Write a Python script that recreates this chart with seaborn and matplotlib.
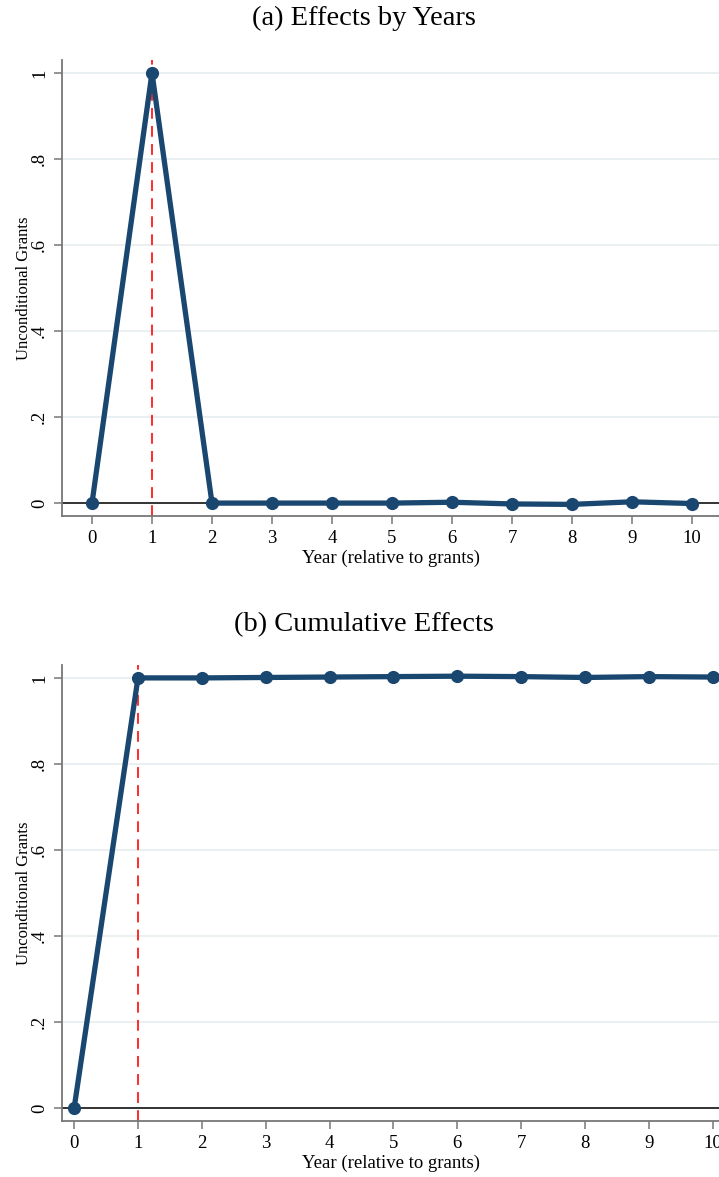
import matplotlib
matplotlib.use("Agg")
import matplotlib.pyplot as plt
import seaborn as sns
import pandas as pd

# Event-time estimates of unconditional grants
years = [0, 1, 2, 3, 4, 5, 6, 7, 8, 9, 10]
effects_by_year = [0.0, 1.0, 0.0, 0.0, 0.0, 0.0, 0.002, -0.002, -0.003, 0.003, -0.001]
cumulative_effects = [0.0, 1.0, 1.0, 1.001, 1.002, 1.003, 1.004, 1.003, 1.001, 1.003, 1.002]
y_ticks = [0, 0.2, 0.4, 0.6, 0.8, 1.0]
y_tick_labels = ["0", ".2", ".4", ".6", ".8", "1"]
panel_titles = ["(a) Effects by Years", "(b) Cumulative Effects"]
x_label = "Year (relative to grants)"
y_label = "Unconditional Grants"
event_year = 1

sns.set_theme(style="white")
plt.rcParams["font.family"] = ["Liberation Serif", "DejaVu Serif"]
plt.rcParams["text.color"] = "black"
plt.rcParams["axes.labelcolor"] = "black"
plt.rcParams["xtick.color"] = "black"
plt.rcParams["ytick.color"] = "black"

LINE = "#1a476f"
GRID = "#eaf0f2"
SPINE = "#777777"

fig = plt.figure(figsize=(7.19, 11.77), dpi=100)
left = 62 / 719
width = 1 - left
h = (516 - 60) / 1177
axes_specs = [
    (1 - 516 / 1177, (-0.5, 10.45), effects_by_year, 18 / 1177),
    (1 - 1121 / 1177, (-0.19, 10.1), cumulative_effects, 625 / 1177),
]

for i, (bottom, xlim, values, title_y) in enumerate(axes_specs):
    ax = fig.add_axes([left, bottom, width, h])
    df = pd.DataFrame({"year": years, "value": values})
    for yt in y_ticks[1:]:
        ax.axhline(yt, color=GRID, lw=1.4, zorder=0)
    ax.axhline(0, color="#333333", lw=1.4, zorder=1)
    ax.axvline(event_year, color="#ff1a1a", lw=1.3, ls=(0, (6, 4)), zorder=2)
    sns.lineplot(data=df, x="year", y="value", ax=ax, color=LINE, lw=3.8,
                 marker="o", markersize=9.5, markeredgewidth=0, zorder=3)
    ax.set_xlim(*xlim)
    ax.set_ylim(-0.03, 1.03)
    ax.set_xticks(years)
    ax.set_xticklabels([str(y) for y in years], fontsize=13.5)
    ax.set_yticks(y_ticks)
    ax.set_yticklabels(y_tick_labels, fontsize=13.5, rotation=90, va="center")
    ax.set_xlabel(x_label, fontsize=13.5, labelpad=2)
    ax.set_ylabel(y_label, fontsize=12, labelpad=-1)
    for s in ["top", "right"]:
        ax.spines[s].set_visible(False)
    for s in ["left", "bottom"]:
        ax.spines[s].set_color(SPINE)
        ax.spines[s].set_linewidth(1.3)
    ax.tick_params(axis="both", which="major", length=6, width=1.1,
                   color=SPINE, labelcolor="black", direction="out",
                   left=True, bottom=True, pad=4)
    fig.text(0.506, 1 - title_y, panel_titles[i], ha="center", va="center",
             fontsize=20.5, color="black")

fig.savefig("out.png", dpi=100)
